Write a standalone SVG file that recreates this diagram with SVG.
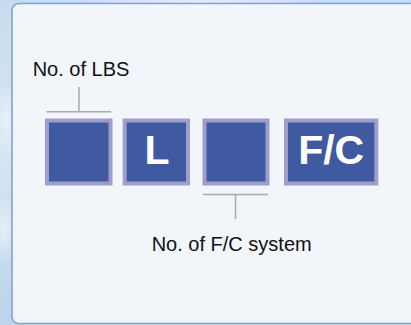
<svg xmlns="http://www.w3.org/2000/svg" width="411" height="325" viewBox="0 0 411 325">
  <defs>
    <linearGradient id="bg" x1="0" y1="0" x2="0" y2="1">
      <stop offset="0" stop-color="#c9dcee"/>
      <stop offset="0.5" stop-color="#d6e4f2"/>
      <stop offset="1" stop-color="#bcd3ea"/>
    </linearGradient>
    <radialGradient id="cloud" cx="0.5" cy="0.5" r="0.5">
      <stop offset="0" stop-color="#eef4fa" stop-opacity="0.8"/>
      <stop offset="1" stop-color="#eef4fa" stop-opacity="0"/>
    </radialGradient>
  </defs>
  <style>
    .outer { fill: #9d9ecc; }
    .inner { fill: #3f5aa0; }
    .lbl { font-family: "Liberation Sans", Arial, sans-serif; font-size: 20px; fill: #111111; }
    .code { font-family: "Liberation Sans", Arial, sans-serif; font-size: 41px; font-weight: bold; fill: #ffffff; text-anchor: middle; }
    .br { stroke: #a9a9a9; stroke-width: 1.5; fill: none; }
  </style>
  <rect x="0" y="0" width="411" height="325" fill="url(#bg)"/>
  <ellipse cx="6" cy="120" rx="14" ry="40" fill="url(#cloud)"/>
  <ellipse cx="4" cy="230" rx="12" ry="35" fill="url(#cloud)"/>
  <ellipse cx="200" cy="1" rx="120" ry="4" fill="url(#cloud)"/>
  <rect id="panel" x="12" y="3.5" width="410" height="320" rx="7" ry="7" fill="#f2f5fa" stroke="#7fa4d9" stroke-width="1.6"/>

  <g id="connectors">
    <path class="br" d="M46.5 111.7 H111 M79 87 V111.7"/>
    <path class="br" d="M203 194.5 H268 M235.5 194.5 V219"/>
  </g>

  <g id="box1">
    <rect class="outer" x="45" y="118.5" width="67.5" height="67"/>
    <rect class="inner" x="49" y="122.5" width="59.5" height="59"/>
  </g>
  <g id="box2">
    <rect class="outer" x="122.7" y="118.5" width="67.3" height="67"/>
    <rect class="inner" x="126.7" y="122.5" width="59.3" height="59"/>
    <text class="code" x="157" y="163.5">L</text>
  </g>
  <g id="box3">
    <rect class="outer" x="202.5" y="118.5" width="67" height="67"/>
    <rect class="inner" x="206.5" y="122.5" width="59" height="59"/>
  </g>
  <g id="box4">
    <rect class="outer" x="284" y="118.5" width="94.3" height="67"/>
    <rect class="inner" x="288" y="122.5" width="86.3" height="59"/>
    <text class="code" x="331.2" y="163.5">F/C</text>
  </g>

  <g id="label-lbs">
    <text class="lbl" x="81" y="75.5" text-anchor="middle">No. of LBS</text>
  </g>
  <g id="label-fc">
    <text class="lbl" x="231.7" y="251" text-anchor="middle">No. of F/C system</text>
  </g>
</svg>
